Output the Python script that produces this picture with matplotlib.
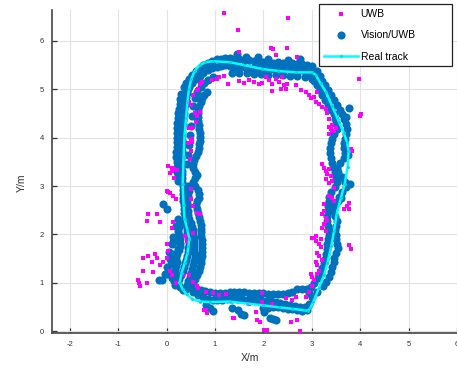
import matplotlib
matplotlib.use("Agg")
import matplotlib.pyplot as plt

plt.rcParams['font.family'] = ['Liberation Sans', 'DejaVu Sans']
plt.rcParams['axes.unicode_minus'] = False

track_x = [0.27, 0.33, 0.41, 0.52, 0.68, 0.90, 1.30, 1.65, 2.00, 2.33, 2.60, 2.84, 2.92,
           2.97, 3.03, 3.15, 3.25, 3.32, 3.40, 3.46, 3.51, 3.60, 3.68, 3.74, 3.76, 3.73,
           3.66, 3.56, 3.42, 3.29, 3.18, 3.08, 3.00, 2.67, 2.30, 1.98, 1.60, 1.30, 0.95,
           0.80, 0.68, 0.58, 0.51, 0.46, 0.43, 0.40, 0.37, 0.35, 0.33, 0.35, 0.37, 0.43,
           0.47, 0.45, 0.43, 0.37, 0.31, 0.27]
track_y = [1.00, 0.86, 0.76, 0.67, 0.61, 0.60, 0.61, 0.57, 0.53, 0.49, 0.46, 0.43, 0.42,
           0.48, 0.60, 0.90, 1.15, 1.40, 1.75, 2.07, 2.40, 2.75, 3.05, 3.40, 3.72, 3.90,
           4.10, 4.33, 4.65, 4.95, 5.12, 5.30, 5.35, 5.35, 5.38, 5.42, 5.50, 5.56, 5.58,
           5.56, 5.50, 5.38, 5.22, 5.00, 4.74, 4.40, 4.06, 3.60, 3.04, 2.60, 2.32, 2.08,
           1.91, 1.75, 1.62, 1.40, 1.21, 1.00]

# Vision/UWB fused positions
vis_left = [
    (0.33, 0.85), (0.28, 0.92), (0.24, 1.00), (0.26, 1.08), (0.30, 1.16), (0.33, 1.24),
    (0.36, 1.32), (0.38, 1.40), (0.40, 1.48), (0.42, 1.56), (0.44, 1.64), (0.45, 1.72),
    (0.46, 1.80), (0.46, 1.88), (0.45, 1.96), (0.43, 2.04), (0.41, 2.12), (0.39, 2.20),
    (0.38, 2.28), (0.37, 2.36), (0.36, 2.44), (0.35, 2.52), (0.35, 2.60), (0.34, 2.68),
    (0.34, 2.76), (0.33, 2.84), (0.33, 2.92), (0.33, 3.00), (0.32, 3.08), (0.32, 3.16),
    (0.31, 3.24), (0.31, 3.32), (0.30, 3.40), (0.30, 3.48), (0.30, 3.56), (0.31, 3.64),
    (0.31, 3.72), (0.31, 3.80), (0.31, 3.88), (0.32, 3.96), (0.32, 4.04), (0.32, 4.12),
    (0.32, 4.20), (0.33, 4.28), (0.33, 4.36), (0.34, 4.44), (0.35, 4.52), (0.36, 4.60),
    (0.37, 4.68), (0.39, 4.76), (0.40, 4.84), (0.42, 4.92), (0.44, 5.00), (0.47, 5.06),
    (0.50, 0.92), (0.55, 1.00), (0.59, 1.08), (0.63, 1.16), (0.66, 1.24), (0.68, 1.32),
    (0.70, 1.40), (0.71, 1.48), (0.72, 1.56), (0.73, 1.64), (0.74, 1.72), (0.73, 1.80),
    (0.72, 1.88), (0.71, 1.96), (0.70, 2.04), (0.71, 2.12), (0.71, 2.20), (0.69, 2.28),
    (0.67, 2.36), (0.64, 2.44), (0.62, 2.52), (0.60, 2.60), (0.63, 2.68), (0.66, 2.76),
    (0.67, 2.84), (0.64, 2.92), (0.58, 3.00), (0.55, 3.08), (0.58, 3.16), (0.62, 3.22),
    (0.58, 3.30), (0.55, 3.38), (0.54, 3.46), (0.56, 3.54), (0.60, 3.62), (0.64, 3.70),
    (0.66, 3.78), (0.67, 3.86), (0.68, 3.94), (0.69, 4.02), (0.68, 4.10), (0.67, 4.18),
    (0.66, 4.26), (0.65, 4.34), (0.64, 4.42), (0.64, 4.50), (0.65, 4.58), (0.67, 4.66),
    (0.70, 4.74), (0.73, 4.82), (0.78, 4.88), (0.84, 4.94),
    (0.40, 0.88), (0.42, 0.96), (0.45, 1.04), (0.48, 1.12), (0.50, 1.20), (0.52, 1.28),
    (0.54, 1.36), (0.56, 1.44), (0.58, 1.52), (0.58, 1.60), (0.57, 1.68), (0.56, 1.76),
    (0.56, 1.84), (0.56, 1.92), (0.55, 2.00), (0.54, 2.08), (0.52, 2.16), (0.50, 2.24),
    (0.47, 2.32), (0.45, 2.40), (0.44, 2.48), (0.43, 2.56), (0.42, 2.64), (0.42, 2.72),
    (0.44, 2.80), (0.46, 2.90), (0.45, 3.00),
    (0.18, 0.95), (0.15, 1.03), (0.14, 1.11), (0.16, 1.19), (0.18, 1.27), (0.20, 1.35),
    (0.22, 1.43), (0.20, 1.51), (0.22, 1.59), (0.25, 1.67), (0.27, 1.75), (0.28, 1.83),
    (0.27, 1.91), (0.25, 1.99), (0.24, 2.07), (0.26, 2.15), (0.28, 2.23),
    (0.24, 3.10), (0.23, 3.20), (0.22, 3.30), (0.21, 3.40), (0.21, 3.50), (0.20, 3.60),
    (0.20, 3.70), (0.21, 3.80), (0.21, 3.90), (0.22, 4.00), (0.22, 4.10), (0.22, 4.20),
    (0.22, 4.30), (0.23, 4.40), (0.24, 4.50), (0.25, 4.60), (0.27, 4.70), (0.28, 4.80),
    (0.30, 4.90), (0.35, 5.05),
    (0.43, 3.45), (0.44, 3.65), (0.46, 3.85), (0.48, 4.05), (0.50, 4.25), (0.52, 4.45),
    (0.55, 4.65), (0.58, 4.82),
    (-0.08, 2.62), (0.01, 2.52), (0.13, 1.94), (0.10, 1.80), (0.06, 1.49), (0.00, 1.32),
    (-0.04, 1.18), (-0.16, 1.05), (-0.10, 1.05), (0.20, 2.18), (0.23, 1.70), (0.16, 1.60),
    (0.05, 1.63), (0.23, 2.32), (0.13, 1.85), (0.00, 1.19), (0.10, 1.10), (0.08, 1.38),
]
vis_top = [
    (0.40, 5.12), (0.46, 5.22), (0.52, 5.30), (0.60, 5.38), (0.68, 5.44), (0.76, 5.50),
    (0.85, 5.54), (0.94, 5.58), (1.03, 5.62), (1.12, 5.63), (1.21, 5.65),
    (0.47, 5.05), (0.53, 5.14), (0.60, 5.22), (0.68, 5.28), (0.76, 5.34), (0.85, 5.40),
    (0.94, 5.44), (1.03, 5.46), (1.12, 5.48), (1.21, 5.50),
    (0.62, 4.95), (0.70, 5.05), (0.78, 5.12), (0.86, 5.20), (0.95, 5.26),
    (1.30, 5.64), (1.40, 5.62), (1.50, 5.62), (1.60, 5.60), (1.70, 5.60), (1.80, 5.58),
    (1.90, 5.58), (2.00, 5.56), (2.10, 5.56), (2.20, 5.55), (2.30, 5.56), (2.40, 5.55),
    (2.50, 5.54), (2.60, 5.54), (2.70, 5.53), (2.80, 5.52), (2.90, 5.50), (3.00, 5.48),
    (1.30, 5.48), (1.40, 5.47), (1.50, 5.46), (1.60, 5.46), (1.70, 5.45), (1.80, 5.45),
    (1.90, 5.44), (2.00, 5.43), (2.10, 5.43), (2.20, 5.42), (2.30, 5.42), (2.40, 5.41),
    (2.50, 5.41), (2.60, 5.40), (2.70, 5.40), (2.80, 5.39), (2.90, 5.38), (3.00, 5.36),
    (1.35, 5.34), (1.50, 5.33), (1.65, 5.33), (1.80, 5.32), (1.95, 5.31), (2.10, 5.30),
    (2.25, 5.30), (2.40, 5.29), (2.55, 5.28), (2.70, 5.27), (2.85, 5.25), (3.00, 5.22),
    (1.46, 5.73), (1.88, 5.67), (1.63, 5.66), (2.10, 5.62), (2.50, 5.60), (2.75, 5.62),
]
vis_right = [
    (3.10, 5.38), (3.16, 5.28), (3.22, 5.18), (3.28, 5.08), (3.34, 4.98), (3.40, 4.88),
    (3.46, 4.78), (3.52, 4.68), (3.58, 4.58), (3.63, 4.48), (3.67, 4.38), (3.70, 4.28),
    (3.72, 4.18),
    (3.00, 5.28), (3.05, 5.18), (3.10, 5.08), (3.16, 4.98), (3.22, 4.88), (3.28, 4.78),
    (3.34, 4.68), (3.40, 4.58), (3.45, 4.48), (3.48, 4.38), (3.50, 4.28), (3.52, 4.18),
    (3.70, 4.43), (3.77, 4.62),
    (3.70, 4.08), (3.68, 3.98), (3.66, 3.88), (3.66, 3.78), (3.68, 3.68), (3.66, 3.58),
    (3.58, 3.48), (3.52, 3.38), (3.55, 3.28), (3.62, 3.18), (3.68, 3.08), (3.70, 2.98),
    (3.62, 2.88), (3.56, 2.78), (3.54, 2.68), (3.45, 2.58), (3.42, 2.48), (3.48, 2.38),
    (3.52, 2.28), (3.50, 2.18), (3.48, 2.08), (3.50, 1.98),
    (3.45, 4.08), (3.42, 3.98), (3.40, 3.88), (3.38, 3.78), (3.38, 3.68), (3.40, 3.58),
    (3.42, 3.48), (3.45, 3.38), (3.48, 3.28), (3.50, 3.18), (3.52, 3.08), (3.48, 2.98),
    (3.40, 2.88), (3.36, 2.78), (3.35, 2.68), (3.34, 2.58), (3.33, 2.48), (3.32, 2.38),
    (3.32, 2.28), (3.33, 2.18), (3.34, 2.08), (3.35, 1.98),
    (3.75, 3.65), (3.78, 3.05), (3.60, 2.75),
    (3.50, 1.90), (3.52, 1.80), (3.55, 1.72), (3.50, 1.62), (3.46, 1.52), (3.45, 1.42),
    (3.42, 1.32), (3.40, 1.22), (3.36, 1.12), (3.30, 1.02), (3.24, 0.94),
    (3.34, 1.90), (3.32, 1.80), (3.32, 1.70), (3.30, 1.60), (3.28, 1.50), (3.25, 1.40),
    (3.22, 1.30), (3.18, 1.20), (3.12, 1.10), (3.05, 1.00), (2.98, 0.92),
]
vis_bottom = [
    (2.90, 0.86), (2.80, 0.88), (2.70, 0.86), (2.60, 0.80), (2.50, 0.78), (2.40, 0.76),
    (2.30, 0.76), (2.20, 0.76), (2.10, 0.77), (2.00, 0.78), (1.90, 0.78), (1.80, 0.78),
    (1.70, 0.79), (1.60, 0.80), (1.50, 0.80), (1.40, 0.80), (1.30, 0.80), (1.20, 0.79),
    (1.10, 0.78), (1.00, 0.78), (0.90, 0.80), (0.80, 0.82), (0.70, 0.84), (0.60, 0.86),
    (2.95, 0.55), (2.85, 0.50), (2.75, 0.50), (2.65, 0.52), (2.55, 0.54), (2.45, 0.56),
    (2.35, 0.58), (2.25, 0.60), (2.15, 0.62), (2.05, 0.63), (1.95, 0.64), (1.85, 0.64),
    (1.75, 0.65), (1.65, 0.65), (1.55, 0.66), (1.45, 0.66), (1.35, 0.66), (1.25, 0.66),
    (1.15, 0.65), (1.05, 0.64), (0.95, 0.64), (0.85, 0.66), (0.75, 0.70), (0.65, 0.74),
    (0.55, 0.80),
    (2.90, 0.44), (2.80, 0.42), (2.70, 0.44), (2.60, 0.46), (2.50, 0.46), (2.40, 0.48),
    (2.30, 0.50), (2.20, 0.50), (2.10, 0.48), (2.00, 0.47),
    (3.00, 0.70), (3.10, 0.80), (2.95, 0.78),
    (1.36, 0.47), (1.47, 0.43), (1.60, 0.33), (1.53, 0.36), (2.02, 0.40), (2.19, 0.24),
    (2.26, 0.23), (2.13, 0.28), (0.95, 0.41), (0.82, 0.54), (0.90, 0.48),
]

# raw UWB fixes
uwb_pts = [
    (0.02, 2.87), (0.13, 2.79), (-0.39, 2.42), (-0.41, 2.28), (-0.14, 2.26), (-0.21, 2.42),
    (0.13, 2.26), (0.10, 2.13), (0.00, 1.81), (0.02, 1.66), (-0.39, 1.56), (-0.25, 1.60),
    (-0.21, 1.52), (-0.31, 1.42), (-0.08, 1.42), (-0.14, 1.36), (-0.49, 1.25), (-0.29, 1.23),
    (-0.60, 1.05), (-0.58, 0.99), (-0.56, 0.94), (-0.41, 1.00), (0.06, 1.25), (0.12, 1.15),
    (0.20, 0.99), (0.33, 1.15), (0.37, 1.97), (0.41, 1.87), (0.51, 2.73), (0.54, 2.59),
    (0.62, 2.44), (0.68, 2.42), (0.62, 0.94), (0.64, 0.90), (0.82, 0.43), (0.84, 0.37),
    (0.95, 0.78), (1.09, 0.74), (1.23, 0.76), (0.16, 3.16), (0.00, 2.90), (0.06, 2.85),
    (0.20, 2.73), (0.51, 2.94), (0.54, 2.03), (0.47, 1.15), (0.54, 1.01), (0.82, 0.80),
    (0.78, 0.43), (1.38, 0.27), (-0.49, 1.52), (0.00, 1.52),
    (0.02, 3.41), (0.10, 3.37), (0.12, 3.31), (0.06, 3.27), (0.16, 3.35), (0.21, 3.33),
    (0.47, 4.19), (0.51, 3.98), (0.53, 3.96), (0.45, 3.88), (0.51, 3.72), (0.49, 3.55),
    (0.47, 4.74), (0.51, 4.68), (0.54, 4.89), (0.62, 4.99), (0.64, 5.01), (0.68, 4.54),
    (0.68, 5.11), (0.74, 5.15), (0.93, 5.19), (1.03, 5.22), (1.09, 5.26), (1.19, 5.28),
    (1.26, 5.11), (0.58, 4.50), (0.62, 4.44), (0.60, 4.33), (0.53, 4.19), (0.53, 3.92),
    (1.19, 6.57), (1.48, 6.22), (2.51, 6.47), (2.16, 5.85), (2.20, 5.83), (2.49, 5.85),
    (2.26, 5.71), (2.70, 5.67), (1.50, 5.77),
    (1.71, 5.20), (1.81, 5.15), (1.91, 5.11), (1.98, 5.13), (2.06, 5.26), (2.12, 5.20),
    (2.18, 5.11), (2.26, 5.22), (2.33, 5.15), (2.39, 5.26), (2.43, 5.09), (2.49, 5.11),
    (2.18, 4.97), (2.37, 5.01), (2.47, 5.01), (1.50, 5.18), (1.60, 5.14),
    (2.67, 5.09), (2.78, 4.99), (2.88, 4.95), (2.94, 4.89), (2.98, 4.81), (3.05, 4.85),
    (3.09, 4.74), (3.15, 4.70), (3.11, 4.95), (3.21, 4.64), (3.29, 4.60), (3.31, 4.50),
    (3.35, 4.39), (3.35, 4.23), (3.40, 4.17), (3.42, 4.13), (3.35, 4.07), (3.50, 4.19),
    (3.97, 5.22), (4.01, 4.48), (3.99, 4.44),
    (3.42, 4.27), (3.40, 4.19), (3.46, 4.13), (3.83, 3.72), (3.81, 3.76),
    (3.21, 3.45), (3.25, 3.37), (3.29, 3.31), (3.35, 3.35), (3.31, 3.24), (3.40, 3.20),
    (3.29, 3.14), (3.35, 3.06), (3.42, 3.10), (3.46, 2.96), (3.42, 2.75), (3.46, 2.69),
    (3.77, 2.65), (3.72, 2.59), (3.77, 2.53), (3.66, 2.53),
    (3.25, 2.48), (3.21, 2.42), (3.29, 2.34), (3.31, 2.28), (3.25, 2.22), (3.21, 2.14),
    (3.29, 2.07), (3.09, 1.97), (3.00, 1.93), (3.19, 1.91), (3.35, 2.79), (3.25, 2.63),
    (3.05, 1.93), (3.09, 1.87), (3.15, 1.81), (3.19, 1.73), (3.11, 1.62), (3.15, 1.56),
    (3.21, 1.46), (3.09, 1.42), (3.11, 1.36), (2.98, 1.19), (3.00, 1.11), (3.05, 1.05),
    (3.11, 1.19), (3.15, 1.25), (3.77, 1.77), (3.81, 1.70), (3.00, 0.94), (2.94, 0.80),
    (2.88, 0.70), (2.47, 0.68), (2.67, 0.70), (2.59, 0.64), (1.98, 0.60), (1.85, 0.39),
    (1.87, 0.23), (1.40, 0.27), (2.02, 0.02), (2.08, 0.02), (2.57, 0.18), (2.70, 0.23),
    (2.76, 0.00), (1.93, 0.18), (2.18, 0.57), (1.98, 0.78), (1.71, 0.57),
]

vis = vis_left + vis_top + vis_right + vis_bottom
vis_x = [p[0] for p in vis]
vis_y = [p[1] for p in vis]
uwb_x = [p[0] for p in uwb_pts]
uwb_y = [p[1] for p in uwb_pts]

fig = plt.figure(figsize=(4.57, 3.69), dpi=100)
ax = fig.add_axes([52 / 457, 1 - 333 / 369, 405 / 457, 323 / 369])

ax.grid(True, color='#e2e2e2', linewidth=0.8)
ax.set_axisbelow(True)

h_vis = ax.scatter(vis_x, vis_y, s=34, color='#0072BD', linewidths=0, zorder=2,
                   label='Vision/UWB')
h_uwb = ax.scatter(uwb_x, uwb_y, s=5.5, color='#FF00FF', marker='s', linewidths=0,
                   zorder=3, label='UWB')
h_trk, = ax.plot(track_x, track_y, color='#00FFFF', lw=1.8, marker='.', ms=2.2,
                 mec='#00DDDD', mfc='#00DDDD', zorder=4, label='Real track')

ax.set_xlim(-2.37, 6.0)
ax.set_ylim(-0.04, 6.64)
ax.set_xticks(range(-2, 7))
ax.set_yticks(range(0, 7))

for s in ('top', 'right'):
    ax.spines[s].set_visible(False)
for s in ('left', 'bottom'):
    ax.spines[s].set_color('#444444')
    ax.spines[s].set_linewidth(1.2)
ax.tick_params(direction='in', length=3.5, width=0.9, color='#333333',
               labelsize=5.5, labelcolor='#333333', pad=6)

ax.set_xlabel('X/m', fontsize=7.5, color='#333333')
ax.set_ylabel('Y/m', fontsize=7.5, color='#333333')
ax.xaxis.set_label_coords((250 - 52) / 405, -(353 - 333) / 323)
ax.yaxis.set_label_coords(-(52 - 27) / 405, (333 - 183) / 323)

leg = ax.legend([h_uwb, h_vis, h_trk], ['UWB', 'Vision/UWB', 'Real track'],
                loc='upper left', bbox_to_anchor=(319 / 457, 1 - 4 / 369, 133 / 457, 0),
                bbox_transform=fig.transFigure, mode='expand',
                fontsize=7.5, frameon=True, fancybox=False, framealpha=1,
                edgecolor='#222222', scatterpoints=1, handlelength=3.3,
                handletextpad=0.25, labelspacing=1.1, borderpad=0.45, borderaxespad=0)
leg.get_frame().set_linewidth(0.9)
leg.set_zorder(10)

fig.savefig('out.png', dpi=100)
